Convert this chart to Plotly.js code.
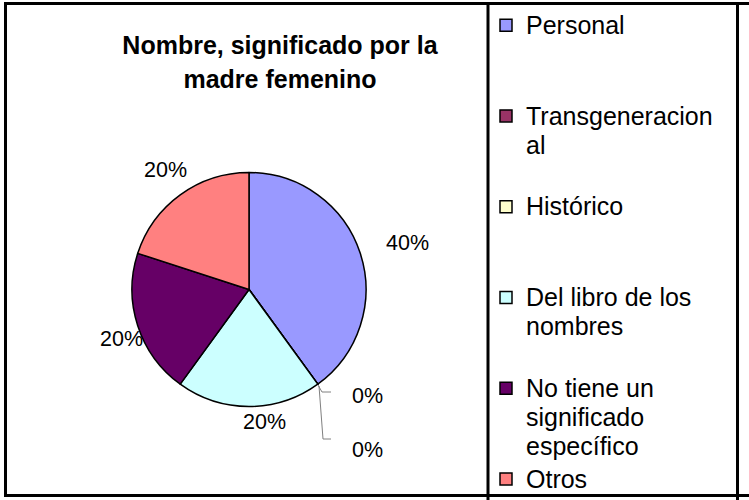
<!DOCTYPE html>
<html>
<head>
<meta charset="utf-8">
<script src="https://cdn.plot.ly/plotly-3.0.1.min.js"></script>
<style>html,body{margin:0;padding:0;background:#fff;}#chart{width:749px;height:500px;}</style>
</head>
<body>
<div id="chart"></div>
<script>
// ---- data ----
const categories = ['Personal', 'Transgeneracional', 'Histórico', 'Del libro de los nombres', 'No tiene un significado específico', 'Otros'];
const legendLabels = ['Personal', 'Transgeneracion<br>al', 'Histórico', 'Del libro de los<br>nombres', 'No tiene un<br>significado<br>específico', 'Otros'];
const values = [40, 0, 0, 20, 20, 20];
const colors = ['#9999FF', '#993366', '#FFFFCC', '#CCFFFF', '#660066', '#FF8080'];
const titleLines = ['Nombre, significado por la', 'madre femenino'];

// ---- layout helpers (pixel -> paper) ----
const W = 749, H = 500;
const px = x => x / W;
const py = y => 1 - y / H;
const FONT = 'Liberation Sans, Arial, sans-serif';
const sized = (t, s) => t.split('<br>').map(l => '<span style="font-size:' + s + 'px">' + l + '</span>').join('<br>');

// pad legend entries with blank lines to reproduce spacing
const legendRows = [3, 3, 3, 3, 3, 1];
const shownLabels = legendLabels.map((t, i) => {
  const n = t.split('<br>').length;
  return sized(t, 25) + '<br>&nbsp;'.repeat(Math.max(0, legendRows[i] - n));
});

const total = values.reduce((a, b) => a + b, 0);
const pctText = values.map(v => Math.round(v / total * 100) + '%');

// label placement (pixel centres) for each slice label
const labelPx = [[407, 243], [367, 396], [367, 450], [264, 422], [121, 339], [165, 170]];

const annotations = values.map((v, i) => ({
  xref: 'paper', yref: 'paper',
  x: px(labelPx[i][0]), y: py(labelPx[i][1]),
  xanchor: 'center', yanchor: 'middle',
  text: pctText[i], showarrow: false,
  font: {family: FONT, size: 21.5, color: '#000'}
}));

const line = (x0, y0, x1, y1, w, c) => ({type: 'line', xref: 'paper', yref: 'paper',
  x0: px(x0), y0: py(y0), x1: px(x1), y1: py(y1), line: {color: c || '#000', width: w}});
const path = (pts, c) => ({type: 'path', xref: 'paper', yref: 'paper',
  path: pts.map((p, i) => (i ? 'L' : 'M') + px(p[0]) + ',' + py(p[1])).join(' '),
  line: {color: c, width: 1}});

const shapes = [
  line(4, 3.5, 749, 3.5, 3),
  line(4, 495.5, 749, 495.5, 3),
  line(5.5, 2, 5.5, 497, 3),
  line(488, 2, 488, 500, 3),
  line(737.5, 2, 737.5, 500, 3),
  path([[318, 385], [322, 392], [331, 392]], '#808080'),
  path([[319, 386], [323, 439], [331, 439]], '#808080')
];

const trace = {
  type: 'pie',
  labels: shownLabels,
  values: values,
  sort: false,
  direction: 'clockwise',
  rotation: 0,
  textinfo: 'none',
  hoverinfo: 'label+percent',
  marker: {colors: colors, line: {color: '#000', width: 1.5}},
  domain: {x: [px(132), px(366)], y: [py(406.5), py(172.5)]}
};

const layout = {
  width: W, height: H,
  margin: {l: 0, r: 0, t: 0, b: 0},
  paper_bgcolor: '#fff',
  font: {family: FONT, color: '#000'},
  title: {
    text: '<b>' + sized(titleLines.join('<br>'), 25) + '</b>',
    font: {family: FONT, size: 26.5, color: '#000'},
    x: px(280), xanchor: 'center', xref: 'paper',
    y: py(54), yanchor: 'top', yref: 'container'
  },
  showlegend: true,
  legend: {
    x: px(486), xanchor: 'left',
    y: py(7), yanchor: 'top',
    valign: 'top',
    font: {family: FONT, size: 22.5, color: '#000'},
    bgcolor: 'rgba(0,0,0,0)'
  },
  annotations: annotations,
  shapes: shapes
};

Plotly.newPlot('chart', [trace], layout, {displayModeBar: false, staticPlot: true});
</script>
</body>
</html>
